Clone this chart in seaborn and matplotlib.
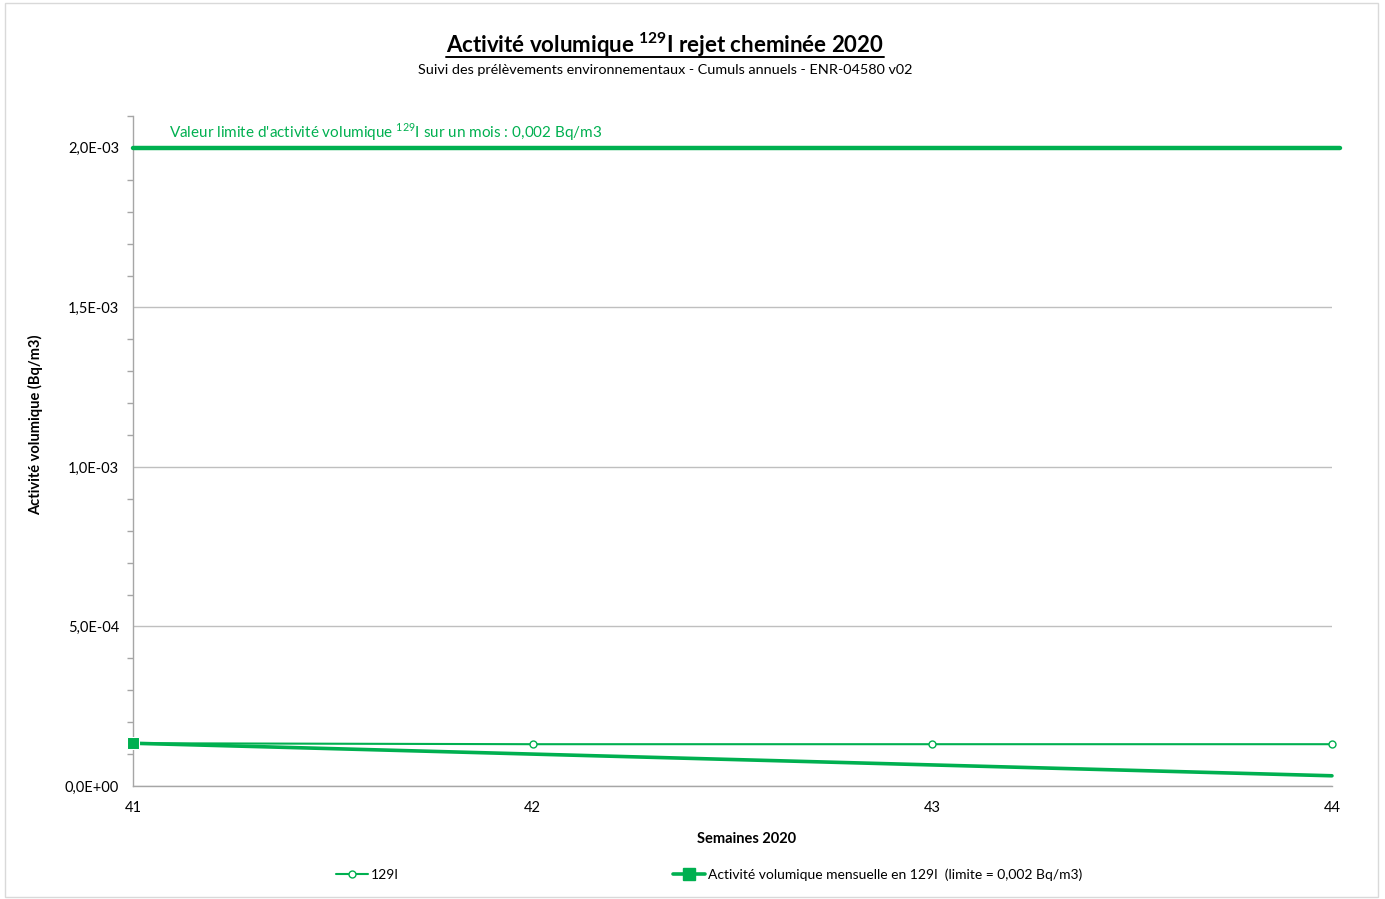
import matplotlib
matplotlib.use("Agg")
import matplotlib.pyplot as plt
import matplotlib.ticker as mticker
from matplotlib.patches import Rectangle
from matplotlib.lines import Line2D
import seaborn as sns

# Données
semaines = [41, 42, 43, 44]
activite_129i = [1.34e-4, 1.31e-4, 1.31e-4, 1.31e-4]
activite_mensuelle = [1.34e-4, 1.00e-4, 0.66e-4, 0.32e-4]
limite = 2.0e-3

VERT = "#00b050"
GRIS = "#a6a6a6"

sns.set_theme(style="white")
plt.rcParams["font.family"] = ["Lato", "DejaVu Sans"]
plt.rcParams["mathtext.fontset"] = "custom"
plt.rcParams["mathtext.rm"] = "Lato"
plt.rcParams["mathtext.bf"] = "Lato:bold"
plt.rcParams["text.color"] = "black"
plt.rcParams["axes.labelcolor"] = "black"

fig = plt.figure(figsize=(13.85, 8.99), dpi=100)
ax = fig.add_axes([0.0960, 0.1257, 0.8657, 0.7453])

# Séries
sns.lineplot(x=semaines, y=activite_129i, ax=ax, color=VERT, linewidth=1.5,
             marker="o", markersize=5, markerfacecolor="white",
             markeredgecolor=VERT, markeredgewidth=1.0, label="129I",
             zorder=3, clip_on=False)
sns.lineplot(x=semaines, y=activite_mensuelle, ax=ax, color=VERT, linewidth=2.6,
             marker="s", markersize=8, markevery=[0],
             label="Activité volumique mensuelle en 129I  (limite = 0,002 Bq/m3)",
             zorder=4, clip_on=False)

# Ligne limite
ax.axhline(limite, xmin=0, xmax=1.007, color=VERT, linewidth=3.2,
           clip_on=False, zorder=5)
ax.text(0.03, limite + 0.05e-3,
        r"Valeur limite d'activité volumique $^{129}$I sur un mois : 0,002 Bq/m3",
        transform=ax.get_yaxis_transform(), color=VERT, fontsize=11,
        ha="left", va="center")

# Axes
ax.set_xlim(41, 44)
ax.set_ylim(0, 2.1e-3)
ax.set_xticks(semaines)
ax.set_xticklabels([str(s) for s in semaines])
ax.yaxis.set_major_locator(mticker.MultipleLocator(5e-4))
ax.yaxis.set_minor_locator(mticker.MultipleLocator(1e-4))


def fmt_sci(v, pos):
    s = f"{v:.1E}"
    mant, exp = s.split("E")
    sign = exp[0]
    return f"{mant.replace('.', ',')}E{sign}{int(exp[1:]):02d}"


ax.yaxis.set_major_formatter(mticker.FuncFormatter(fmt_sci))
ax.grid(axis="y", which="major", color="#bfbfbf", linewidth=1.0)
ax.set_axisbelow(True)
for side in ["top", "right"]:
    ax.spines[side].set_visible(False)
for side in ["left", "bottom"]:
    ax.spines[side].set_color(GRIS)
    ax.spines[side].set_linewidth(1.0)
ax.tick_params(axis="both", which="both", direction="out", color=GRIS,
               labelsize=10.5, labelcolor="#000000")
ax.tick_params(axis="y", which="major", length=5, width=1, pad=5)
ax.tick_params(axis="y", which="minor", length=4, width=1, left=True)
ax.tick_params(axis="x", which="major", length=5, width=1, pad=6)

ax.set_xlabel("Semaines 2020", fontsize=10.5, fontweight="bold")
ax.set_ylabel("Activité volumique (Bq/m3)", fontsize=10.5, fontweight="bold")
ax.xaxis.set_label_coords(0.512, -0.0685)
ax.yaxis.set_label_coords(-0.0752, 0.539)

# Légende
ax.get_legend().remove()
poignees = [
    Line2D([], [], color=VERT, linewidth=1.5, marker="o", markersize=5,
           markerfacecolor="white", markeredgecolor=VERT),
    Line2D([], [], color=VERT, linewidth=2.6, marker="s", markersize=8),
]
fig.legend(poignees, ["129I", "Activité volumique mensuelle en 129I  (limite = 0,002 Bq/m3)"],
           loc="center", bbox_to_anchor=(0.512, 0.027), ncol=2, frameon=False,
           fontsize=10, columnspacing=19.8, handlelength=2.3, handletextpad=0.2)

# Titre et sous-titre
titre = fig.text(0.4805, 0.950,
                 r"Activité volumique $^{\mathbf{129}}$I rejet cheminée 2020",
                 ha="center", va="center", fontsize=16, fontweight="bold")
fig.text(0.4805, 0.922,
         "Suivi des prélèvements environnementaux - Cumuls annuels - ENR-04580 v02",
         ha="center", va="center", fontsize=10.4)

# Soulignement du titre
fig.canvas.draw()
bb = titre.get_window_extent().transformed(fig.transFigure.inverted())
fig.add_artist(Line2D([bb.x0, bb.x1], [bb.y0 + 0.002, bb.y0 + 0.002],
                      transform=fig.transFigure, color="black", linewidth=1.4))

# Cadre du graphique
fig.add_artist(Rectangle((0.0036, 0.002), 0.9915, 0.9945, transform=fig.transFigure,
                         fill=False, edgecolor="#d9d9d9", linewidth=1.0))

fig.savefig("out.png", dpi=100)
